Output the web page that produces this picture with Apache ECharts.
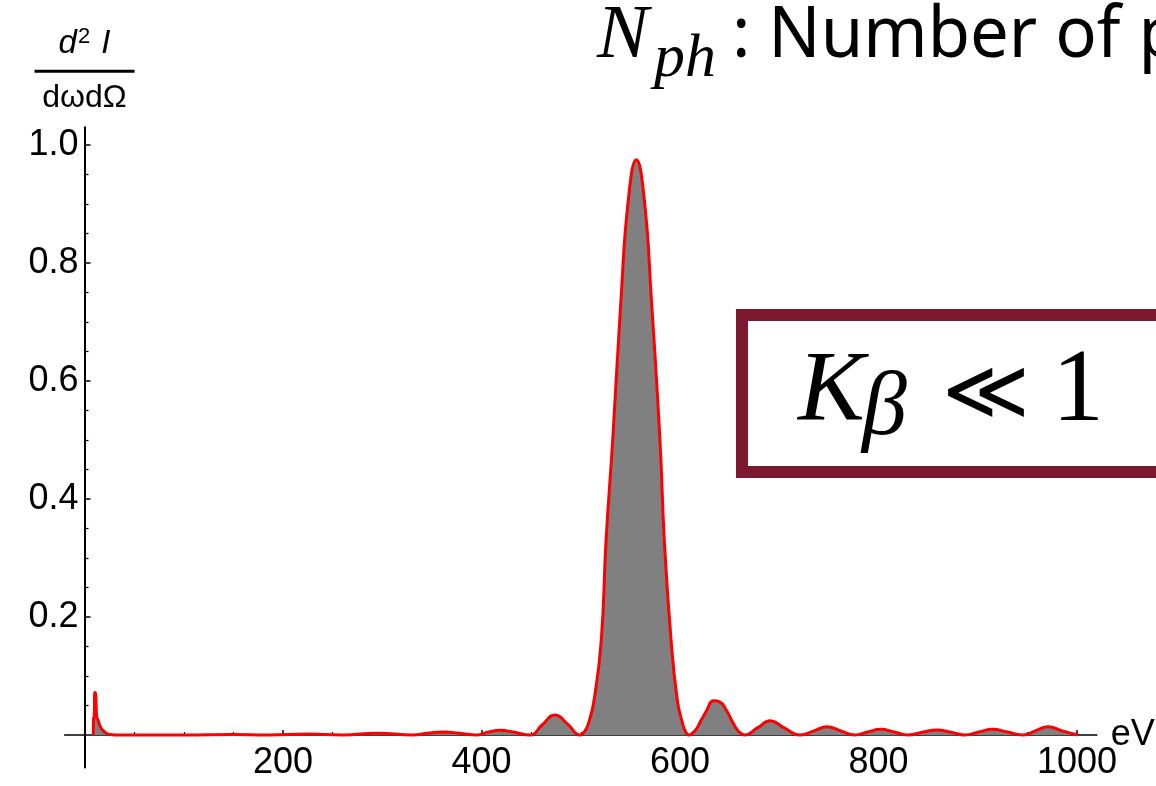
<!DOCTYPE html>
<html>
<head>
<meta charset="utf-8">
<script src="https://cdn.jsdelivr.net/npm/echarts@6/dist/echarts.min.js"></script>
<style>
html, body { margin: 0; padding: 0; background: #fff; }
#main { width: 1156px; height: 786px; }
</style>
</head>
<body>
<div id="main"></div>
<script>
// spectrum (eV, normalised d2I/dwdOmega)
var energyEv = [
    8.9, 9.2, 9.8, 10.4, 11.3, 12.3, 13.6, 15.2, 17, 19, 22, 26, 35,
    60, 100, 150, 185, 225, 260, 295, 331,
    345, 361, 378, 395,
    407, 419, 432, 449,
    461, 474, 487, 499.2,
    504, 508, 513.4, 520.7, 525.5, 532.2, 540.5, 548, 556,
    564, 571.2, 579.8, 584.2, 591, 597.3, 602.5, 605.5, 608.6,
    615, 621, 627, 633.6, 640, 647, 653, 659, 665,
    678, 691, 705, 721,
    735, 748, 762, 776,
    789, 802, 816, 830,
    844, 859, 873, 887,
    901, 915, 930, 946,
    958, 971, 985, 1001
];
var intensity = [
    0, 0.029, 0.03, 0.072, 0.068, 0.03, 0.026, 0.017, 0.011, 0.007, 0.003, 0.001, 0,
    0, 0, 0.001, 0, 0.0015, 0, 0.003, 0,
    0.003, 0.005, 0.003, 0,
    0.005, 0.008, 0.005, 0,
    0.017, 0.034, 0.018, 0,
    0.006, 0.021, 0.059, 0.161, 0.33, 0.5, 0.737, 0.908, 0.975,
    0.908, 0.737, 0.5, 0.33, 0.161, 0.059, 0.02, 0.006, 0,
    0.007, 0.024, 0.042, 0.058, 0.056, 0.041, 0.022, 0.006, 0,
    0.012, 0.024, 0.012, 0,
    0.007, 0.014, 0.007, 0,
    0.005, 0.0096, 0.005, 0,
    0.0045, 0.0085, 0.0045, 0,
    0.005, 0.0096, 0.005, 0,
    0.007, 0.014, 0.007, 0
];

var xMajorTicks = [200, 400, 600, 800, 1000];
var xMinorTicks = [50, 100, 150, 250, 300, 350, 450, 500, 550, 650, 700, 750, 850, 900, 950];
var yMajorTicks = [0.2, 0.4, 0.6, 0.8, 1.0];
var yMinorTicks = [0.05, 0.1, 0.15, 0.25, 0.3, 0.35, 0.45, 0.5, 0.55, 0.65, 0.7, 0.75, 0.85, 0.9, 0.95];

var seriesData = energyEv.map(function (e, i) {
    return [e, intensity[i]];
});

var labelFont = 'Liberation Sans, Arial, sans-serif';
var serifFont = 'Liberation Serif, DejaVu Serif, serif';

// grid spans x -20..1020 and y -0.055..1.03; axes sit on the zero lines via offset
var xOffset = -32.45;
var yOffset = -19.85;

var myChart = echarts.init(document.getElementById('main'));

myChart.setOption({
    animation: false,
    backgroundColor: '#fff',
    grid: {
        left: 64.65,
        top: 127.3,
        width: 1032.2,
        height: 640.15,
        outerBoundsMode: 'none'
    },
    xAxis: [
        {
            type: 'value',
            min: -20,
            max: 1020,
            position: 'bottom',
            offset: xOffset,
            name: 'eV',
            nameLocation: 'end',
            nameGap: 14,
            nameMoveOverlap: false,
            nameTextStyle: { fontFamily: labelFont, fontSize: 36, color: '#000' },
            axisLine: { onZero: false, lineStyle: { color: '#000', width: 1.5 } },
            axisTick: { inside: true, length: 5, customValues: xMajorTicks, lineStyle: { color: '#000', width: 1.5 } },
            axisLabel: {
                customValues: xMajorTicks,
                margin: 10,
                fontFamily: labelFont,
                fontSize: 36,
                color: '#000',
                formatter: function (v) { return String(v); }
            },
            splitLine: { show: false }
        },
        {
            // minor ticks only
            type: 'value',
            min: -20,
            max: 1020,
            position: 'bottom',
            offset: xOffset,
            axisLine: { show: false, onZero: false },
            axisTick: { inside: true, length: 3, customValues: xMinorTicks, lineStyle: { color: '#000', width: 1.2 } },
            axisLabel: { show: false },
            splitLine: { show: false }
        }
    ],
    yAxis: [
        {
            type: 'value',
            min: -0.055,
            max: 1.03,
            position: 'left',
            offset: yOffset,
            name: '{it|d}{sup|2}{it| I}\n{bar| }\n{den|dωdΩ}',
            nameLocation: 'end',
            nameGap: 9,
            nameMoveOverlap: false,
            nameTextStyle: {
                color: '#000',
                align: 'center',
                rich: {
                    it: { fontFamily: labelFont, fontStyle: 'italic', fontSize: 33, lineHeight: 40, color: '#000' },
                    sup: { fontFamily: labelFont, fontSize: 22, lineHeight: 40, verticalAlign: 'top', padding: [2, 2, 0, 1], color: '#000' },
                    bar: { width: 100, height: 3, fontSize: 1, lineHeight: 14, backgroundColor: '#000' },
                    den: { fontFamily: labelFont, fontSize: 32, lineHeight: 40, color: '#000' }
                }
            },
            axisLine: { onZero: false, lineStyle: { color: '#000', width: 2 } },
            axisTick: { inside: true, length: 6, customValues: yMajorTicks, lineStyle: { color: '#000', width: 1.5 } },
            axisLabel: {
                customValues: yMajorTicks,
                margin: 6,
                fontFamily: labelFont,
                fontSize: 36,
                color: '#000',
                formatter: function (v) { return v.toFixed(1); }
            },
            splitLine: { show: false }
        },
        {
            type: 'value',
            min: -0.055,
            max: 1.03,
            position: 'left',
            offset: yOffset,
            axisLine: { show: false, onZero: false },
            axisTick: { inside: true, length: 4, customValues: yMinorTicks, lineStyle: { color: '#000', width: 1.2 } },
            axisLabel: { show: false },
            splitLine: { show: false }
        }
    ],
    series: [
        {
            type: 'line',
            data: seriesData,
            smooth: 0.5,
            showSymbol: false,
            lineStyle: { color: '#ff0000', width: 3 },
            areaStyle: { color: '#808080', opacity: 1, origin: 'auto' },
            z: 3
        }
    ],
    graphic: [
        { type: 'text', x: 597, y: 37, style: { text: 'N', font: 'italic 77px ' + serifFont, fill: '#000', verticalAlign: 'middle' } },
        { type: 'text', x: 654, y: 60, style: { text: 'ph', font: 'italic 62px ' + serifFont, fill: '#000', verticalAlign: 'middle' } },
        { type: 'text', x: 732, y: 37, scaleX: 0.97, style: { text: ': Number of photons', font: '71px Noto Sans, sans-serif', fill: '#000', verticalAlign: 'middle' } },
        { type: 'rect', shape: { x: 742, y: 315, width: 600, height: 157 }, style: { fill: '#fff', stroke: '#7C1730', lineWidth: 12 }, z: 10 },
        { type: 'text', x: 798, y: 393, style: { text: 'K', font: 'italic 100px ' + serifFont, fill: '#000', verticalAlign: 'middle' }, z: 11 },
        { type: 'text', x: 862, y: 410, style: { text: 'β', font: 'italic 90px ' + serifFont, fill: '#000', verticalAlign: 'middle' }, z: 11 },
        { type: 'text', x: 942, y: 397, style: { text: '≪', font: '84px DejaVu Sans, sans-serif', fill: '#000', verticalAlign: 'middle' }, z: 11 },
        { type: 'text', x: 1052, y: 393, style: { text: '1', font: '104px ' + serifFont, fill: '#000', verticalAlign: 'middle' }, z: 11 }
    ]
});

window.onresize = function () {
    myChart.resize();
};
</script>
</body>
</html>
